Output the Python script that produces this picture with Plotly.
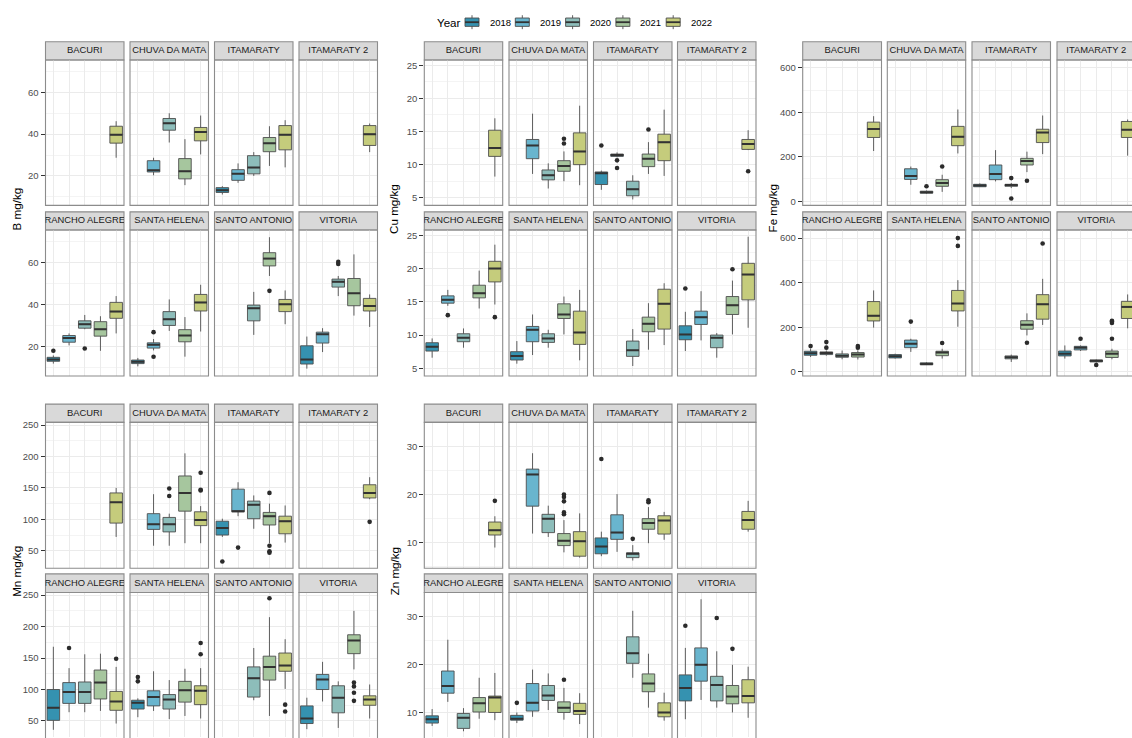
import plotly.graph_objects as go

N = None

YEARS = ["2018", "2019", "2020", "2021", "2022"]
YEAR_COLORS = ["#3592B0", "#69B5CE", "#8DBDBA", "#A6C69E", "#C5CC7C"]
FARMS = ["BACURI", "CHUVA DA MATA", "ITAMARATY", "ITAMARATY 2",
         "RANCHO ALEGRE", "SANTA HELENA", "SANTO ANTONIO", "VITORIA"]

# Box statistics: one row per farm (FARMS order), one column per year (YEARS order).
# Each entry is (lower whisker, Q1, median, Q3, upper whisker); N = not sampled.
B_BOX = [
    [N, N, N, N, (28.7, 35.7, 39.7, 43.8, 46.2)],
    [N, (20.3, 21.9, 22.7, 27.3, 28.7), (36.0, 41.9, 45.2, 47.5, 50.0),
     (15.6, 18.6, 22.2, 28.3, 37.6), (30.3, 36.8, 41.0, 43.2, 48.9)],
    [(11.1, 12.1, 13.2, 14.4, 15.1), (16.7, 17.9, 21.1, 23.0, 26.0), (20.0, 21.0, 24.0, 29.7, 31.4),
     (24.8, 31.6, 35.6, 38.4, 43.8), (24.1, 32.5, 39.7, 44.1, 46.7)],
    [N, N, N, N, (31.4, 34.6, 40.0, 44.1, 45.1)],
    [(11.8, 12.9, 13.7, 14.8, 15.7), (20.5, 22.0, 24.0, 25.2, 26.2), (28.2, 28.7, 30.6, 32.2, 35.0),
     (17.9, 24.9, 28.2, 31.8, 34.4), (26.2, 33.4, 36.6, 41.0, 44.0)],
    [(10.5, 11.8, 12.7, 13.5, 14.5), (18.1, 19.2, 20.8, 21.7, 23.5), (27.4, 30.0, 33.0, 36.6, 42.4),
     (15.1, 22.2, 25.2, 28.0, 34.0), (27.1, 36.9, 41.0, 44.8, 49.4)],
    [N, N, (25.5, 32.2, 38.2, 39.7, 46.0), (53.6, 58.4, 61.9, 64.7, 72.1),
     (30.6, 36.6, 40.1, 42.4, 46.7)],
    [(9.4, 11.6, 13.7, 20.3, 24.7), (17.3, 21.6, 25.8, 26.8, 28.7), (44.0, 48.3, 50.8, 52.1, 53.6),
     (34.7, 39.4, 45.3, 52.4, 63.9), (29.3, 36.9, 39.3, 42.9, 44.8)],
]
B_OUT = [("RANCHO ALEGRE", "2018", 17.9), ("RANCHO ALEGRE", "2020", 19.0),
         ("SANTA HELENA", "2019", 26.8), ("SANTA HELENA", "2019", 15.1),
         ("SANTO ANTONIO", "2021", 46.5), ("VITORIA", "2020", 59.3), ("VITORIA", "2020", 60.3)]

CU_BOX = [
    [N, N, N, N, (8.2, 11.25, 12.5, 15.2, 17.0)],
    [N, (8.6, 10.9, 12.9, 13.8, 17.7), (6.4, 7.7, 8.4, 9.2, 10.2),
     (7.5, 9.0, 9.8, 10.6, 12.0), (6.9, 10.0, 12.0, 14.8, 18.9)],
    [(6.2, 7.0, 8.7, 8.9, 9.1), (11.1, 11.25, 11.45, 11.6, 11.85), (4.75, 5.3, 6.3, 7.5, 8.4),
     (8.6, 9.7, 10.9, 11.6, 13.4), (8.3, 10.6, 13.4, 14.6, 18.3)],
    [N, N, N, N, (12.2, 12.3, 13.1, 13.8, 15.2)],
    [(6.6, 7.6, 8.25, 8.85, 9.5), (14.4, 14.8, 15.3, 15.9, 16.8), (8.1, 9.0, 9.6, 10.2, 11.0),
     (14.0, 15.6, 16.3, 17.5, 19.7), (14.6, 18.0, 20.0, 21.1, 23.6)],
    [(5.7, 6.25, 6.85, 7.5, 9.1), (7.0, 9.0, 10.8, 11.3, 13.1), (8.1, 8.9, 9.5, 10.2, 10.8),
     (10.1, 12.5, 13.1, 14.7, 15.8), (6.2, 8.6, 10.4, 13.6, 16.8)],
    [N, N, (5.35, 6.8, 7.7, 9.1, 10.9), (7.8, 10.5, 11.7, 12.7, 14.8),
     (8.5, 10.9, 14.7, 16.9, 17.8)],
    [(7.6, 9.3, 10.1, 11.4, 13.5), (9.2, 11.6, 12.7, 13.6, 16.6), (6.6, 8.1, 9.6, 10.0, 10.3),
     (10.1, 13.1, 14.5, 15.8, 18.2), (11.1, 15.3, 19.1, 20.8, 24.8)],
]
CU_OUT = [("CHUVA DA MATA", "2021", 13.2), ("CHUVA DA MATA", "2021", 13.9),
          ("ITAMARATY", "2018", 12.9), ("ITAMARATY", "2019", 10.65), ("ITAMARATY", "2019", 9.5),
          ("ITAMARATY", "2021", 15.3), ("ITAMARATY 2", "2022", 9.0),
          ("RANCHO ALEGRE", "2019", 13.0), ("RANCHO ALEGRE", "2022", 12.7),
          ("VITORIA", "2018", 17.0), ("VITORIA", "2021", 19.9)]

FE_BOX = [
    [N, N, N, N, (226, 287, 325, 356, 383)],
    [N, (74, 98, 113, 146, 156), (33, 36, 40, 45, 48), (42, 67, 82, 97, 119), (215, 250, 290, 337, 413)],
    [(64, 65, 71, 76, 80), (89, 97, 122, 163, 230), (59, 67, 73, 76, 82),
     (131, 163, 181, 193, 223), (212, 264, 309, 324, 386)],
    [N, N, N, N, (205, 287, 322, 359, 368)],
    [(66, 74, 83, 92, 103), (72, 77, 84, 89, 95), (56, 65, 72, 80, 95),
     (55, 66, 77, 86, 96), (198, 228, 251, 315, 365)],
    [(59, 62, 69, 77, 81), (89, 108, 126, 142, 148), (30, 31, 35, 40, 43),
     (59, 72, 86, 92, 103), (202, 273, 306, 365, 411)],
    [N, N, (44, 58, 65, 71, 77), (163, 191, 211, 229, 262), (210, 236, 303, 346, 417)],
    [(59, 71, 81, 93, 118), (93, 98, 108, 114, 118), (41, 44, 49, 53, 55),
     (56, 64, 81, 93, 103), (195, 239, 291, 316, 347)],
]
FE_OUT = [("CHUVA DA MATA", "2020", 67), ("CHUVA DA MATA", "2021", 156),
          ("ITAMARATY", "2020", 104), ("ITAMARATY", "2020", 12), ("ITAMARATY", "2021", 92),
          ("RANCHO ALEGRE", "2018", 115), ("RANCHO ALEGRE", "2019", 108), ("RANCHO ALEGRE", "2019", 133),
          ("RANCHO ALEGRE", "2021", 108), ("RANCHO ALEGRE", "2021", 115),
          ("SANTA HELENA", "2019", 225), ("SANTA HELENA", "2021", 129),
          ("SANTA HELENA", "2022", 565), ("SANTA HELENA", "2022", 600),
          ("SANTO ANTONIO", "2021", 130), ("SANTO ANTONIO", "2022", 576),
          ("VITORIA", "2019", 148), ("VITORIA", "2020", 30), ("VITORIA", "2021", 148),
          ("VITORIA", "2021", 219), ("VITORIA", "2021", 225), ("VITORIA", "2021", 229)]

MN_BOX = [
    [N, N, N, N, (72, 94, 127, 142, 150)],
    [N, (58, 84, 92, 109, 140), (58, 80, 92, 103, 109), (62, 113, 142, 169, 205), (62, 90, 99, 112, 121)],
    [(72, 75, 86, 97, 101), (105, 112, 113, 148, 159), (85, 101, 123, 129, 138),
     (62, 91, 105, 111, 125), (63, 77, 97, 105, 122)],
    [N, N, N, N, (132, 134, 142, 155, 167)],
    [(36, 51, 71, 100, 168), (64, 78, 96, 111, 134), (64, 78, 96, 112, 156),
     (66, 85, 111, 131, 157), (46, 67, 81, 97, 136)],
    [(56, 69, 79, 83, 86), (66, 74, 88, 98, 129), (53, 69, 84, 92, 115),
     (58, 80, 99, 113, 133), (54, 76, 98, 106, 134)],
    [N, N, (83, 88, 118, 136, 166), (58, 115, 136, 153, 215), (101, 129, 138, 158, 180)],
    [(37, 46, 54, 74, 87), (81, 100, 116, 124, 144), (39, 63, 87, 106, 113),
     (132, 157, 178, 187, 225), (54, 75, 84, 90, 108)],
]
MN_OUT = [("CHUVA DA MATA", "2020", 137), ("CHUVA DA MATA", "2020", 149),
          ("CHUVA DA MATA", "2022", 146), ("CHUVA DA MATA", "2022", 147), ("CHUVA DA MATA", "2022", 174),
          ("ITAMARATY", "2018", 33), ("ITAMARATY", "2019", 55), ("ITAMARATY", "2021", 142),
          ("ITAMARATY", "2021", 58), ("ITAMARATY", "2021", 49), ("ITAMARATY", "2021", 47),
          ("ITAMARATY 2", "2022", 96), ("RANCHO ALEGRE", "2019", 166), ("RANCHO ALEGRE", "2022", 149),
          ("SANTA HELENA", "2018", 113), ("SANTA HELENA", "2018", 120),
          ("SANTA HELENA", "2022", 156), ("SANTA HELENA", "2022", 174),
          ("SANTO ANTONIO", "2021", 245), ("SANTO ANTONIO", "2022", 76), ("SANTO ANTONIO", "2022", 65),
          ("VITORIA", "2021", 111), ("VITORIA", "2021", 105), ("VITORIA", "2021", 95), ("VITORIA", "2021", 82)]

ZN_BOX = [
    [N, N, N, N, (9.0, 11.6, 12.6, 14.3, 15.5)],
    [N, (11.9, 17.6, 24.2, 25.3, 28.6), (11.2, 12.1, 15.0, 15.9, 17.7),
     (8.0, 9.4, 10.4, 11.9, 14.7), (6.9, 7.2, 10.3, 12.3, 16.1)],
    [(7.2, 7.7, 9.2, 11.0, 12.3), (8.1, 10.7, 12.1, 15.8, 20.1), (6.3, 6.9, 7.7, 7.9, 9.5),
     (9.9, 12.8, 14.1, 15.0, 17.4), (10.6, 11.8, 14.6, 15.6, 16.4)],
    [N, N, N, N, (12.3, 12.8, 14.7, 16.5, 18.7)],
    [(7.3, 7.9, 8.7, 9.4, 10.8), (12.3, 14.1, 15.6, 18.7, 25.2), (6.2, 6.8, 9.0, 9.9, 11.0),
     (8.8, 10.2, 12.0, 13.2, 17.3), (8.5, 10.1, 13.2, 13.5, 18.3)],
    [(7.9, 8.5, 8.8, 9.5, 10.1), (9.2, 10.4, 12.1, 16.1, 19.0), (10.6, 12.6, 13.6, 15.7, 18.2),
     (8.6, 10.1, 11.1, 12.3, 15.2), (7.7, 9.7, 10.4, 12.0, 14.1)],
    [N, N, (17.3, 20.3, 22.4, 25.8, 31.2), (11.1, 14.4, 16.1, 18.1, 22.3),
     (8.4, 9.2, 10.1, 12.1, 14.2)],
    [(8.7, 12.5, 15.2, 17.9, 23.5), (12.7, 16.6, 20.0, 23.5, 33.6), (11.1, 12.5, 15.8, 17.6, 22.8),
     (10.1, 11.9, 13.4, 15.7, 20.0), (9.0, 12.1, 13.5, 16.9, 19.6)],
]
ZN_OUT = [("BACURI", "2022", 18.7),
          ("CHUVA DA MATA", "2021", 15.9), ("CHUVA DA MATA", "2021", 16.3), ("CHUVA DA MATA", "2021", 18.6),
          ("CHUVA DA MATA", "2021", 19.5), ("CHUVA DA MATA", "2021", 20.0),
          ("ITAMARATY", "2018", 27.4), ("ITAMARATY", "2020", 10.8),
          ("ITAMARATY", "2021", 18.4), ("ITAMARATY", "2021", 18.8),
          ("SANTA HELENA", "2018", 12.1), ("SANTA HELENA", "2021", 16.9),
          ("VITORIA", "2018", 28.1), ("VITORIA", "2020", 29.7), ("VITORIA", "2021", 23.3)]

# ---------------------------------------------------------------- layout
W, H = 1132, 738
FONT = "Liberation Sans, Arial, sans-serif"
BORDER = "#8C8C8C"
STRIP_FILL = "#D9D9D9"
GRID = "#EBEBEB"
GRID_MINOR = "#F4F4F4"
OUTLINE = "#4D4D4D"
MEDIAN = "#333333"
BOX_WIDTH = 0.8

# pixel columns/rows of each facet block: (strip top, strip bottom), (panel top, panel bottom)
COLS_LEFT = [(45.5, 124.0), (130.0, 208.5), (214.5, 293.0), (299.0, 377.5)]
COLS_MID = [(424.3, 502.7), (509.0, 587.5), (593.5, 672.0), (677.5, 756.0)]
COLS_RIGHT = [(802.7, 881.5), (887.3, 965.7), (972.0, 1050.5), (1057.0, 1135.5)]
ROWS_TOP = [((39.0, 57.3), (57.3, 203.5)), ((210.0, 228.3), (228.3, 375.0))]
ROWS_BOTTOM = [((403.3, 421.7), (421.7, 568.3)), ((574.0, 592.7), (592.7, 739.5))]

PANELS = [
    dict(title="B mg/kg", boxes=B_BOX, outliers=B_OUT, cols=COLS_LEFT, rows=ROWS_TOP,
         yrange=(5.9, 75.5), ticks=[20, 40, 60], minor=[10, 30, 50, 70], title_x=16.5),
    dict(title="Cu mg/kg", boxes=CU_BOX, outliers=CU_OUT, cols=COLS_MID, rows=ROWS_TOP,
         yrange=(3.85, 25.8), ticks=[5, 10, 15, 20, 25], minor=[7.5, 12.5, 17.5, 22.5], title_x=394),
    dict(title="Fe mg/kg", boxes=FE_BOX, outliers=FE_OUT, cols=COLS_RIGHT, rows=ROWS_TOP,
         yrange=(-19, 636), ticks=[0, 200, 400, 600], minor=[100, 300, 500], title_x=772.5),
    dict(title="Mn mg/kg", boxes=MN_BOX, outliers=MN_OUT, cols=COLS_LEFT, rows=ROWS_BOTTOM,
         yrange=(22.2, 254.2), ticks=[50, 100, 150, 200, 250], minor=[75, 125, 175, 225], title_x=16.5),
    dict(title="Zn mg/kg", boxes=ZN_BOX, outliers=ZN_OUT, cols=COLS_MID, rows=ROWS_BOTTOM,
         yrange=(4.7, 35.0), ticks=[10, 20, 30], minor=[5, 15, 25, 35], title_x=394),
]


def axis_key(kind, n):
    return kind if n == 1 else f"{kind}{n}"


def axis_ref(letter, n):
    return letter if n == 1 else f"{letter}{n}"


def frame(px0, px1, py0, py1, xr, yr):
    """Domain and range for a pixel box, trimmed to the canvas while keeping the scale."""
    cx0, cx1 = max(px0, 0.0), min(px1, W)
    cy0, cy1 = max(py0, 0.0), min(py1, H)
    kx = (xr[1] - xr[0]) / (px1 - px0)
    ky = (yr[1] - yr[0]) / (py1 - py0)
    xrange = [xr[0] + (cx0 - px0) * kx, xr[1] - (px1 - cx1) * kx]
    yrange = [yr[0] + (py1 - cy1) * ky, yr[1] - (cy0 - py0) * ky]
    return [cx0 / W, cx1 / W], [1 - cy1 / H, 1 - cy0 / H], xrange, yrange


def paper_rect(px0, px1, py0, py1, **kw):
    return dict(type="rect", xref="paper", yref="paper",
                x0=px0 / W, x1=px1 / W, y0=1 - py1 / H, y1=1 - py0 / H, **kw)


fig = go.Figure()
axes = {}
shapes = []
annotations = []
n = 0

for panel in PANELS:
    for f, farm in enumerate(FARMS):
        r, c = divmod(f, 4)
        (sy0, sy1), (py0, py1) = panel["rows"][r]
        px0, px1 = panel["cols"][c]

        # data subplot
        n += 1
        d = n
        xdom, ydom, xrng, yrng = frame(px0, px1, py0, py1, (-0.5, 4.5), panel["yrange"])
        axes[axis_key("xaxis", d)] = dict(
            domain=xdom, range=xrng, anchor=axis_ref("y", d), type="linear",
            tickvals=list(range(len(YEARS))), showticklabels=False, ticks="",
            showgrid=True, gridcolor=GRID, gridwidth=1, zeroline=False, showline=False,
            fixedrange=True)
        axes[axis_key("yaxis", d)] = dict(
            domain=ydom, range=yrng, anchor=axis_ref("x", d), type="linear",
            tickvals=panel["ticks"], showticklabels=(c == 0),
            ticks="outside" if c == 0 else "", ticklen=4, tickwidth=1, tickcolor="#333333",
            tickfont=dict(family=FONT, size=9.5, color="#4D4D4D"),
            showgrid=True, gridcolor=GRID, gridwidth=1,
            minor=dict(tickvals=panel["minor"], showgrid=True, gridcolor=GRID_MINOR,
                       gridwidth=0.6, ticks=""),
            zeroline=False, showline=False, fixedrange=True)
        xref, yref = axis_ref("x", d), axis_ref("y", d)

        med_x, med_y = [], []
        for yi, year in enumerate(YEARS):
            stats = panel["boxes"][f][yi]
            if stats is None:
                continue
            lo, q1, med, q3, hi = stats
            fig.add_trace(go.Box(
                x=[yi], q1=[q1], median=[med], q3=[q3], lowerfence=[lo], upperfence=[hi],
                width=BOX_WIDTH, whiskerwidth=0, boxpoints=False,
                fillcolor=YEAR_COLORS[yi], line=dict(color=OUTLINE, width=0.9),
                name=year, showlegend=False, hoverinfo="skip",
                xaxis=xref, yaxis=yref))
            med_x += [yi - BOX_WIDTH / 2, yi + BOX_WIDTH / 2, None]
            med_y += [med, med, None]
        if med_x:
            fig.add_trace(go.Scatter(
                x=med_x, y=med_y, mode="lines", line=dict(color=MEDIAN, width=2),
                showlegend=False, hoverinfo="skip", xaxis=xref, yaxis=yref))

        pts = [(YEARS.index(yv), v) for fm, yv, v in panel["outliers"] if fm == farm]
        if pts:
            fig.add_trace(go.Scatter(
                x=[p[0] for p in pts], y=[p[1] for p in pts], mode="markers",
                marker=dict(color="#2B2B2B", size=4.6),
                showlegend=False, hoverinfo="skip", xaxis=xref, yaxis=yref))

        shapes.append(paper_rect(px0, px1, py0, py1, line=dict(color=BORDER, width=1.1),
                                 fillcolor="rgba(0,0,0,0)", layer="above"))

        # strip with the farm name, clipped to its box
        n += 1
        s = n
        xdom, ydom, xrng, yrng = frame(px0, px1, sy0, sy1, (0, 1), (0, 1))
        axes[axis_key("xaxis", s)] = dict(domain=xdom, range=xrng, anchor=axis_ref("y", s),
                                          visible=False, fixedrange=True)
        axes[axis_key("yaxis", s)] = dict(domain=ydom, range=yrng, anchor=axis_ref("x", s),
                                          visible=False, fixedrange=True)
        fig.add_trace(go.Scatter(
            x=[0.5], y=[0.5], mode="text", text=[farm], textposition="middle center",
            textfont=dict(family=FONT, size=9.4, color="#1A1A1A"), cliponaxis=True,
            showlegend=False, hoverinfo="skip",
            xaxis=axis_ref("x", s), yaxis=axis_ref("y", s)))
        shapes.append(paper_rect(px0, px1, sy0, sy1, line=dict(color=BORDER, width=1.1),
                                 fillcolor=STRIP_FILL, layer="below"))

    # y-axis title centred on the facet block
    top = panel["rows"][0][0][0]
    bottom = panel["rows"][1][1][1]
    annotations.append(dict(
        text=panel["title"], xref="paper", yref="paper",
        x=panel["title_x"] / W, y=1 - (top + bottom) / 2 / H, textangle=-90,
        showarrow=False, xanchor="center", yanchor="middle",
        font=dict(family=FONT, size=11.6, color="#000000")))

# legend: "Year" with a boxplot key for each year
LEG_Y = 19.3
LEG_X0 = 472.0
LEG_STEP = 50.3
annotations.append(dict(text="Year", xref="paper", yref="paper", x=435 / W, y=1 - LEG_Y / H,
                        xanchor="left", yanchor="middle", showarrow=False,
                        font=dict(family=FONT, size=11.6, color="#000000")))
for i, year in enumerate(YEARS):
    cx = LEG_X0 + i * LEG_STEP
    shapes.append(dict(type="line", xref="paper", yref="paper", x0=cx / W, x1=cx / W,
                       y0=1 - 26.3 / H, y1=1 - 12.3 / H, line=dict(color=OUTLINE, width=0.9)))
    shapes.append(paper_rect(cx - 7, cx + 7, LEG_Y - 4.2, LEG_Y + 4.2,
                             line=dict(color=OUTLINE, width=0.9), fillcolor=YEAR_COLORS[i]))
    shapes.append(dict(type="line", xref="paper", yref="paper", x0=(cx - 7) / W, x1=(cx + 7) / W,
                       y0=1 - LEG_Y / H, y1=1 - LEG_Y / H, line=dict(color=MEDIAN, width=1.8)))
    annotations.append(dict(text=year, xref="paper", yref="paper", x=(cx + 15.5) / W,
                            y=1 - LEG_Y / H, xanchor="left", yanchor="middle", showarrow=False,
                            font=dict(family=FONT, size=9.5, color="#000000")))

fig.update_layout(
    width=W, height=H, margin=dict(l=0, r=0, t=0, b=0),
    paper_bgcolor="white", plot_bgcolor="white",
    showlegend=False, boxmode="overlay", hovermode=False,
    font=dict(family=FONT),
    shapes=shapes, annotations=annotations,
    **axes)

fig.write_html("out.html")
